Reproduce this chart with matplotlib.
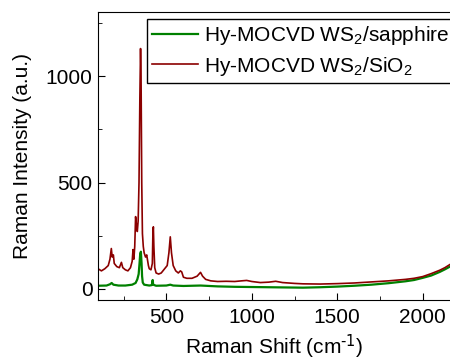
import matplotlib
matplotlib.use('Agg')
import matplotlib.pyplot as plt
from matplotlib.ticker import MultipleLocator

plt.rcParams['font.family'] = ['Liberation Sans', 'DejaVu Sans']
plt.rcParams['mathtext.default'] = 'regular'

# Hy-MOCVD WS2 on sapphire (green)
x_sap = [100, 150, 170, 180, 190, 220, 260, 300, 320, 330, 338, 343, 347, 351, 355, 358,
         362, 370, 400, 415, 420, 423, 440, 500, 523, 540, 600, 700, 800, 900, 1000, 1100,
         1200, 1300, 1400, 1500, 1600, 1700, 1800, 1900, 1950, 2000, 2050, 2100, 2130, 2160]
y_sap = [15, 16, 22, 28, 20, 16, 16, 20, 28, 45, 70, 120, 165, 175, 120, 60,
         30, 20, 16, 18, 42, 20, 15, 16, 20, 16, 14, 16, 12, 10, 9, 8,
         7, 6, 8, 11, 15, 20, 27, 36, 42, 52, 63, 80, 92, 105]

# Hy-MOCVD WS2 on SiO2 (dark red)
x_sio = [100, 120, 140, 160, 170, 178, 183, 190, 195, 210, 225, 237, 245, 260, 275, 290,
         300, 305, 310, 315, 320, 325, 330, 335, 340, 345, 349, 352, 356, 360, 365, 370,
         378, 385, 390, 395, 400, 410, 418, 421, 424, 427, 432, 440, 455, 470, 490, 505,
         515, 523, 530, 540, 555, 570, 582, 590, 600, 620, 650, 680, 700, 712, 730, 760,
         800, 850, 900, 940, 970, 1000, 1050, 1100, 1140, 1180, 1250, 1300, 1400, 1500,
         1600, 1700, 1800, 1900, 1950, 2000, 2050, 2100, 2130, 2160]
y_sio = [95, 85, 95, 110, 140, 190, 150, 160, 120, 105, 100, 125, 100, 90, 85, 100,
         130, 185, 140, 200, 340, 300, 270, 320, 500, 900, 1130, 1000, 500, 260, 200, 170,
         150, 160, 135, 110, 95, 90, 120, 250, 292, 200, 100, 75, 70, 75, 95, 110,
         170, 245, 170, 110, 85, 75, 85, 80, 55, 50, 50, 60, 78, 60, 45, 38,
         35, 36, 35, 38, 40, 35, 30, 32, 36, 30, 26, 24, 23, 25,
         28, 33, 38, 45, 50, 58, 72, 88, 100, 115]

fig = plt.figure(figsize=(4.5, 3.62), dpi=100)
ax = fig.add_axes([98/450, 1-300/362, 1-98/450, 288/362])

ax.plot(x_sap, y_sap, color='#008000', lw=1.6, label='Hy-MOCVD WS$_2$/sapphire')
ax.plot(x_sio, y_sio, color='#8b0000', lw=1.2, label='Hy-MOCVD WS$_2$/SiO$_2$')

ax.set_xlim(100, 2160)
ax.set_ylim(-52, 1302)
ax.xaxis.set_major_locator(MultipleLocator(500))
ax.xaxis.set_minor_locator(MultipleLocator(250))
ax.yaxis.set_major_locator(MultipleLocator(500))
ax.yaxis.set_minor_locator(MultipleLocator(250))
ax.tick_params(which='both', direction='in', top=False, right=False, labelsize=15)
ax.tick_params(which='major', length=5)
ax.tick_params(which='minor', length=3)
ax.tick_params(axis='y', pad=4)
ax.tick_params(axis='x', pad=6)
ax.spines['right'].set_visible(False)

ax.set_xlabel(r'Raman Shift (cm$^{\text{-1}}$)', fontsize=15, labelpad=4)
ax.set_ylabel('Raman Intensity (a.u.)', fontsize=15, labelpad=10)

leg = ax.legend(loc='upper left', bbox_to_anchor=(147/450, 1-19/362),
                bbox_transform=fig.transFigure, fontsize=15, frameon=True,
                fancybox=False, edgecolor='black', framealpha=1,
                handlelength=2.2, handletextpad=0.29, borderpad=0.25,
                labelspacing=0.35, borderaxespad=0)
leg.get_frame().set_linewidth(1.0)

fig.savefig('out.png', dpi=100)
